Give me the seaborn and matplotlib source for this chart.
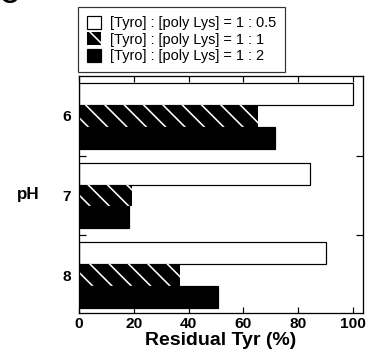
import numpy as np
import pandas as pd
import matplotlib
matplotlib.use('Agg')
import matplotlib.pyplot as plt
import seaborn as sns

# datos
ph_niveles = ['6', '7', '8']
relaciones = ['[Tyro] : [poly Lys] = 1 : 0.5',
              '[Tyro] : [poly Lys] = 1 : 1',
              '[Tyro] : [poly Lys] = 1 : 2']
res_05 = [100.0, 84.3, 90.1]
res_1 = [65.3, 19.3, 36.9]
res_2 = [71.5, 18.1, 50.6]
x_ticks = [0, 20, 40, 60, 80, 100]

df = pd.DataFrame({
    'pH': ph_niveles * 3,
    'relacion': np.repeat(relaciones, 3),
    'residual': res_05 + res_1 + res_2,
})

# el dpi fija el espaciado del rayado, los tamanos van en pixeles
DPI = 116
def px(v):
    return v * 72 / DPI

sns.set_style('ticks')
plt.rcParams['font.family'] = ['Liberation Sans', 'DejaVu Sans']
plt.rcParams['hatch.linewidth'] = px(1.6)
plt.rcParams['text.color'] = 'black'
plt.rcParams['axes.labelcolor'] = 'black'
plt.rcParams['xtick.color'] = 'black'
plt.rcParams['ytick.color'] = 'black'

fig = plt.figure(figsize=(368 / DPI, 355 / DPI), dpi=DPI)
ax = fig.add_axes([79 / 368, 1 - 313 / 355, (363 - 79) / 368, (313 - 76) / 355])

sns.barplot(data=df, x='residual', y='pH', hue='relacion', orient='h',
            palette={relaciones[0]: 'white', relaciones[1]: 'black', relaciones[2]: 'black'},
            width=0.825, gap=0, edgecolor='black', linewidth=px(1.2),
            saturation=1, ax=ax)

# barras rayadas: fondo negro con lineas blancas
for p in ax.containers[1]:
    p.set_hatch('\\\\')
    p.set_edgecolor('white')
    p.set_linewidth(0)

ax.get_legend().remove()

ax.set_xlim(0, 103.6)
ax.set_ylim(2.475, -0.5)
ax.set_xticks(x_ticks)
ax.set_xticklabels([str(t) for t in x_ticks], fontsize=px(15.5), fontweight='bold')
ax.set_yticks([0, 1, 2])
ax.set_yticklabels(ph_niveles, fontsize=px(15.5), fontweight='bold')
ax.set_yticks([0.5, 1.5], minor=True)

ax.tick_params(axis='x', direction='in', top=True, length=px(6), width=px(1.2), pad=px(4))
ax.tick_params(axis='y', which='major', length=0, pad=px(8))
ax.tick_params(axis='y', which='minor', direction='in', left=True, right=True,
               length=px(7), width=px(1.2))
for s in ax.spines.values():
    s.set_visible(True)
    s.set_linewidth(px(1.3))
    s.set_color('black')

ax.set_xlabel('Residual Tyr (%)', fontsize=px(19.5), fontweight='bold', labelpad=px(1))
ax.set_ylabel('pH', fontsize=px(17), fontweight='bold', rotation=0,
              va='center', ha='center')
ax.yaxis.set_label_coords(-0.18, 0.5)

leg = fig.legend(handles=ax.containers, labels=relaciones,
                 loc='upper left', bbox_to_anchor=(78 / 368, 1 - 7 / 355),
                 fontsize=px(14.5), frameon=True, fancybox=False,
                 handlelength=1.0, handleheight=1.0, handletextpad=0.6,
                 labelspacing=0.15, borderpad=0.6, borderaxespad=0)
leg.get_frame().set_edgecolor('black')
leg.get_frame().set_linewidth(px(1.2))

fig.text(0.0, 1.01, 'C', fontsize=px(26), fontweight='bold', va='center', ha='left')

fig.savefig('out.png', dpi=DPI)
